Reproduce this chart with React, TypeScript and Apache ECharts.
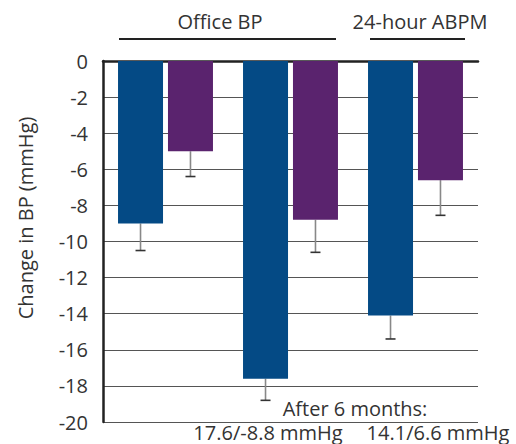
import React, { useEffect, useRef } from "react";
import * as echarts from "echarts";

const catLabels = ["A", "B", "C"];
const blueValues = [-9.0, -17.6, -14.1];
const purpleValues = [-5.0, -8.8, -6.6];
const blueErrors = [-10.5, -18.8, -15.4];
const purpleErrors = [-6.4, -10.6, -8.55];

const FONT = "Open Sans";
const BAR_W = 0.36;
const GAP = 0.11;

function errorSeries(name: string, errs: number[], vals: number[], side: number) {
  return {
    type: "custom",
    name,
    data: errs.map((e, i) => [i, vals[i], e]),
    z: 1,
    renderItem: (params: any, api: any) => {
      const i = api.value(0);
      const band = api.size([1, 0])[0];
      const bw = band * BAR_W;
      const off = side * (bw + bw * GAP) / 2;
      const top = api.coord([i, api.value(1)]);
      const bot = api.coord([i, api.value(2)]);
      const x = top[0] + off;
      return {
        type: "group",
        children: [
          { type: "line", shape: { x1: x, y1: top[1], x2: x, y2: bot[1] }, style: { stroke: "#888", lineWidth: 1.6 } },
          { type: "line", shape: { x1: x - 5, y1: bot[1], x2: x + 5, y2: bot[1] }, style: { stroke: "#333", lineWidth: 1.6 } },
        ],
      };
    },
  };
}

export default function App() {
  const ref = useRef<HTMLDivElement>(null);
  useEffect(() => {
    const chart = echarts.init(ref.current!, null, { renderer: "svg" });
    const t = { fontFamily: FONT, fontSize: 20, fill: "#333", align: "center", verticalAlign: "middle" };
    chart.setOption({
      animation: false,
      grid: { left: 103, top: 61, width: 375, height: 361 },
      xAxis: {
        type: "category",
        data: catLabels,
        axisLine: { onZero: true, lineStyle: { color: "#222", width: 2.5 } },
        axisTick: { show: false },
        axisLabel: { show: false },
      },
      yAxis: {
        type: "value",
        min: -20,
        max: 0,
        interval: 2,
        axisLine: { show: true, lineStyle: { color: "#222", width: 2.5 } },
        axisTick: { show: false },
        axisLabel: { fontFamily: FONT, fontSize: 20, color: "#333", margin: 15 },
        splitLine: { lineStyle: { color: "#555", width: 1 } },
      },
      series: [
        { type: "bar", name: "blue", data: blueValues, barWidth: BAR_W * 100 + "%", barGap: GAP * 100 + "%", itemStyle: { color: "#044a85" }, z: 2 },
        { type: "bar", name: "purple", data: purpleValues, barWidth: BAR_W * 100 + "%", itemStyle: { color: "#5a236e" }, z: 2 },
        errorSeries("blueErr", blueErrors, blueValues, -1),
        errorSeries("purpleErr", purpleErrors, purpleValues, 1),
      ],
      graphic: [
        { type: "text", x: 25, y: 218, rotation: Math.PI / 2, style: { ...t, text: "Change in BP (mmHg)" } },
        { type: "text", x: 220, y: 21, style: { ...t, text: "Office BP" } },
        { type: "text", x: 420, y: 21, style: { ...t, text: "24-hour ABPM" } },
        { type: "line", shape: { x1: 119, y1: 39, x2: 336, y2: 39 }, style: { stroke: "#222", lineWidth: 2 } },
        { type: "line", shape: { x1: 370, y1: 39, x2: 465, y2: 39 }, style: { stroke: "#222", lineWidth: 2 } },
        { type: "text", x: 355, y: 408, style: { ...t, text: "After 6 months:" } },
        { type: "text", x: 268, y: 432, style: { ...t, text: "17.6/-8.8 mmHg" } },
        { type: "text", x: 438, y: 432, style: { ...t, text: "14.1/6.6 mmHg" } },
      ],
    });
    return () => chart.dispose();
  }, []);
  return <div ref={ref} style={{ position: "absolute", left: 0, top: 0, width: 516, height: 444 }} />;
}
